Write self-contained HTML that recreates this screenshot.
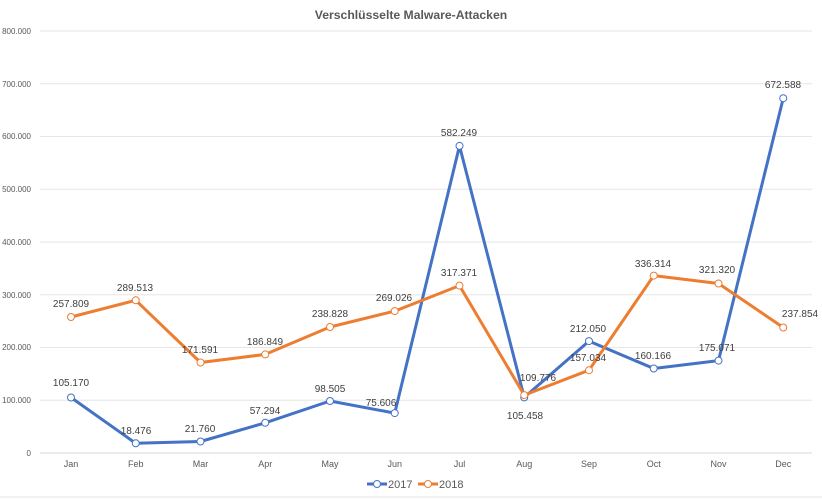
<!DOCTYPE html>
<html><head><meta charset="utf-8"><style>
html,body{margin:0;padding:0;background:#fff;}
svg{display:block;font-family:"Liberation Sans",sans-serif;}
</style></head><body>
<svg width="822" height="500" viewBox="0 0 822 500">
<text x="411" y="19" text-anchor="middle" font-size="12.2" font-weight="bold" fill="#595959">Verschlüsselte Malware-Attacken</text>
<g stroke="#e6e6e6" stroke-width="1">
<line x1="40" y1="31" x2="812" y2="31"/><line x1="40" y1="83.75" x2="812" y2="83.75"/>
<line x1="40" y1="136.5" x2="812" y2="136.5"/><line x1="40" y1="189.25" x2="812" y2="189.25"/>
<line x1="40" y1="242" x2="812" y2="242"/><line x1="40" y1="294.75" x2="812" y2="294.75"/>
<line x1="40" y1="347.5" x2="812" y2="347.5"/><line x1="40" y1="400.25" x2="812" y2="400.25"/>
<line x1="40" y1="453" x2="812" y2="453" stroke="#d9d9d9"/>
</g>
<g font-size="8" fill="#595959" text-anchor="end">
<text x="31" y="34">800.000</text><text x="31" y="87">700.000</text><text x="31" y="139">600.000</text>
<text x="31" y="192">500.000</text><text x="31" y="245">400.000</text><text x="31" y="298">300.000</text>
<text x="31" y="350">200.000</text><text x="31" y="403">100.000</text><text x="31" y="456">0</text>
</g>
<g font-size="9" fill="#595959" text-anchor="middle">
<text x="71" y="467">Jan</text><text x="135.75" y="467">Feb</text><text x="200.5" y="467">Mar</text>
<text x="265.25" y="467">Apr</text><text x="330" y="467">May</text><text x="394.75" y="467">Jun</text>
<text x="459.5" y="467">Jul</text><text x="524.25" y="467">Aug</text><text x="589" y="467">Sep</text>
<text x="653.75" y="467">Oct</text><text x="718.5" y="467">Nov</text><text x="783.25" y="467">Dec</text>
</g>
<polyline fill="none" stroke="#4472c4" stroke-width="3" stroke-linejoin="round" points="71,397.5 135.75,443.3 200.5,441.5 265.25,422.8 330,401 394.75,413.1 459.5,145.9 524.25,397.4 589,341.1 653.75,368.5 718.5,360.6 783.25,98.2"/>
<polyline fill="none" stroke="#ed7d31" stroke-width="3" stroke-linejoin="round" points="71,317 135.75,300.3 200.5,362.5 265.25,354.4 330,327 394.75,311.1 459.5,285.6 524.25,395.1 589,370.2 653.75,275.6 718.5,283.5 783.25,327.5"/>
<g fill="#fff" stroke="#4472c4" stroke-width="1">
<circle cx="71" cy="397.5" r="3.5"/><circle cx="135.75" cy="443.3" r="3.5"/><circle cx="200.5" cy="441.5" r="3.5"/><circle cx="265.25" cy="422.8" r="3.5"/><circle cx="330" cy="401" r="3.5"/><circle cx="394.75" cy="413.1" r="3.5"/><circle cx="459.5" cy="145.9" r="3.5"/><circle cx="524.25" cy="397.4" r="3.5"/><circle cx="589" cy="341.1" r="3.5"/><circle cx="653.75" cy="368.5" r="3.5"/><circle cx="718.5" cy="360.6" r="3.5"/><circle cx="783.25" cy="98.2" r="3.5"/>
</g>
<g fill="#fff" stroke="#ed7d31" stroke-width="1">
<circle cx="71" cy="317" r="3.5"/><circle cx="135.75" cy="300.3" r="3.5"/><circle cx="200.5" cy="362.5" r="3.5"/><circle cx="265.25" cy="354.4" r="3.5"/><circle cx="330" cy="327" r="3.5"/><circle cx="394.75" cy="311.1" r="3.5"/><circle cx="459.5" cy="285.6" r="3.5"/><circle cx="524.25" cy="395.1" r="3.5"/><circle cx="589" cy="370.2" r="3.5"/><circle cx="653.75" cy="275.6" r="3.5"/><circle cx="718.5" cy="283.5" r="3.5"/><circle cx="783.25" cy="327.5" r="3.5"/>
</g>
<g font-size="10" fill="#404040" text-anchor="middle">
<text x="71" y="386">105.170</text><text x="136" y="434">18.476</text><text x="200" y="432">21.760</text>
<text x="265" y="414">57.294</text><text x="330" y="392">98.505</text><text x="381" y="406">75.606</text>
<text x="459" y="136">582.249</text><text x="525" y="419">105.458</text><text x="588" y="332">212.050</text>
<text x="653" y="359">160.166</text><text x="717" y="351">175.071</text><text x="783" y="88">672.588</text>
<text x="71" y="307">257.809</text><text x="135" y="291">289.513</text><text x="200" y="353">171.591</text>
<text x="265" y="345">186.849</text><text x="330" y="317">238.828</text><text x="394" y="301">269.026</text>
<text x="459" y="276">317.371</text><text x="538" y="381">109.776</text><text x="588" y="361">157.034</text>
<text x="653" y="267">336.314</text><text x="717" y="273">321.320</text><text x="800" y="317">237.854</text>
</g>
<g font-size="11" fill="#595959">
<line x1="367" y1="484" x2="387" y2="484" stroke="#4472c4" stroke-width="3"/>
<circle cx="377" cy="484" r="3.5" fill="#fff" stroke="#4472c4"/>
<text x="388" y="488">2017</text>
<line x1="418" y1="484" x2="438" y2="484" stroke="#ed7d31" stroke-width="3"/>
<circle cx="428" cy="484" r="3.5" fill="#fff" stroke="#ed7d31"/>
<text x="439" y="488">2018</text>
</g>
<line x1="0" y1="497" x2="822" y2="497" stroke="#e6e6e6"/>
</svg>
</body></html>
